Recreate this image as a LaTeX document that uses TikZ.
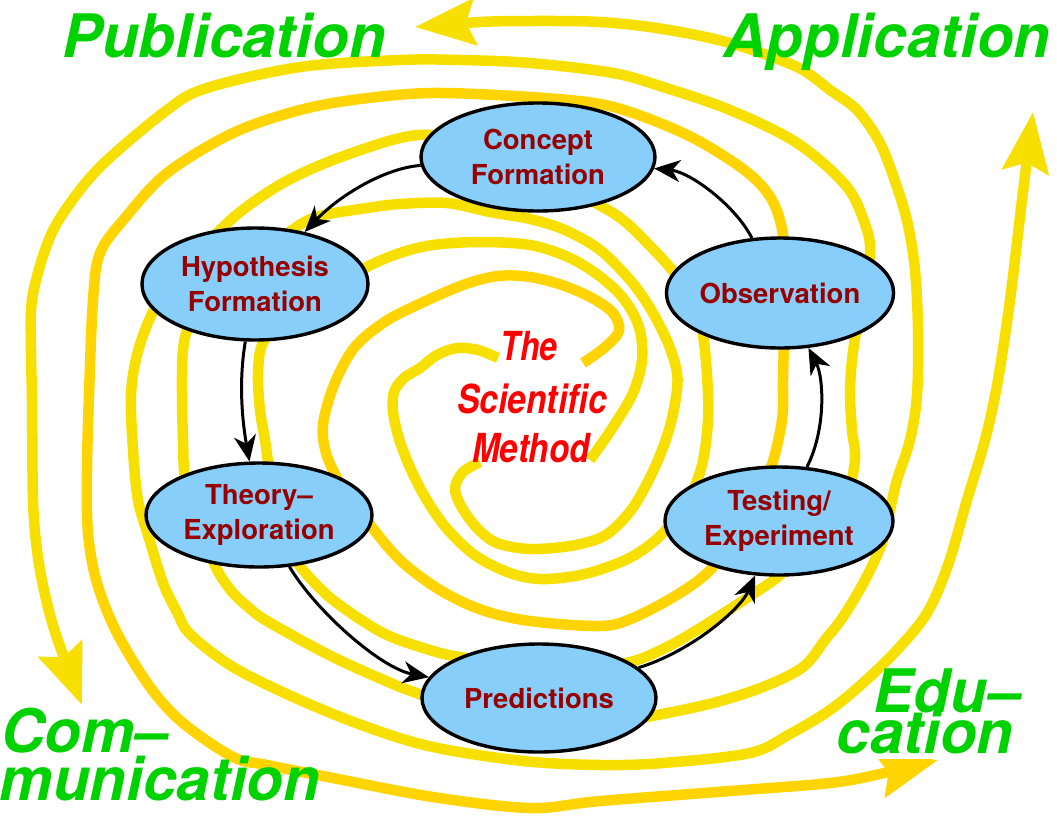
\documentclass[tikz,border=0pt]{standalone}
\usepackage{fontspec}
\setmainfont{TeX Gyre Heros}
\usepackage{graphicx}
\usetikzlibrary{arrows.meta,shapes.geometric}
\definecolor{spiralY}{RGB}{247,224,0}
\definecolor{spiralG}{RGB}{255,212,0}
\definecolor{nodeblue}{RGB}{135,206,250}
\definecolor{nodetext}{RGB}{150,0,0}
\definecolor{labelgreen}{RGB}{0,210,0}
\definecolor{titlered}{RGB}{255,0,0}
\begin{document}
\begin{tikzpicture}[x=1pt,y=-1pt,
  arm/.style={line width=10.5pt, line join=round, color=spiralY},
  goldarm/.style={arm, color=spiralG},
  bigtip/.style={-{Stealth[length=60pt,width=46pt,inset=9pt]}},
  stage/.style={ellipse, draw=black, line width=3.4pt, fill=nodeblue, inner sep=0pt, text=nodetext, font=\fontsize{27.5}{35}\selectfont\bfseries, align=center},
  flow/.style={line width=3pt, -{Stealth[length=26pt,width=22pt,inset=8pt]}},
  outlabel/.style={text=labelgreen, font=\fontsize{60}{60}\selectfont\bfseries\itshape, inner sep=0pt, anchor=base},
  titleline/.style={text=titlered, font=\fontsize{40}{40}\selectfont\bfseries\itshape, inner sep=0pt, anchor=base}
]
\useasboundingbox (0,0) rectangle (1057,817);

% Arm A (gold) -> Education
\draw[goldarm, bigtip] plot[smooth, tension=0.55] coordinates {
(583,363) (604,348) (619,331) (613,313) (592,298) (562,285) (530,277) (498,276) (463,285) (415,306) (383,323) (354,348) (334,385) (323,425) (327,456) (343,488) (367,521) (400,560) (440,590) (482,610) (530,621) (600,626) (633,618) (680,593) (713,567) (745,520) (770,470) (782,420) (783,380) (784,330) (784,280) (783,235) (772,200) (747,172) (697,140) (647,118) (600,104) (530,97) (433,93) (360,99) (300,110) (233,133) (167,173) (125,218) (100,253) (93,300) (89,395) (87,470) (88,533) (97,583) (117,633) (150,687) (183,723) (233,757) (267,765) (333,778) (433,797) (530,808) (600,801) (730,791) (830,783) (880,774) (938,760)};

% Arm B -> Application
\draw[arm, bigtip] plot[smooth, tension=0.55] coordinates {
(498,358) (478,350) (457,348) (437,355) (420,368) (404,378) (394,392) (393,412) (400,442) (413,474) (428,502) (448,530) (476,556) (510,573) (540,579) (575,576) (605,568) (635,555) (663,533) (688,500) (702,465) (708,420) (707,375) (702,330) (690,295) (672,270) (652,248) (623,220) (590,200) (540,175) (490,152) (440,136) (400,138) (333,160) (283,183) (240,212) (205,245) (170,282) (150,318) (137,355) (131,395) (133,450) (138,500) (148,535) (163,583) (177,612) (190,634) (233,667) (300,700) (367,727) (433,747) (523,761) (600,765) (663,763) (750,753) (790,734) (830,710) (863,683) (897,650) (927,613) (948,565) (967,500) (985,440) (998,380) (1010,300) (1022,200) (1033,112)};

% Arm C -> Communication
\draw[arm, bigtip] plot[smooth, tension=0.55] coordinates {
(590,460) (613,427) (633,393) (642,360) (639,327) (623,298) (598,275) (568,257) (530,245) (480,242) (433,245) (400,253) (367,267) (320,295) (280,320) (262,345) (258,375) (260,410) (265,440) (270,470) (285,520) (295,555) (303,570) (333,600) (383,633) (430,650) (460,657) (520,665) (580,667) (630,662) (665,648) (697,630) (747,598) (780,575) (815,540) (845,500) (855,460) (852,430) (850,395) (852,360) (858,320) (866,280) (870,255) (867,230) (847,187) (797,143) (730,110) (663,87) (613,73) (530,63) (460,60) (400,60) (300,67) (207,88) (167,110) (100,167) (62,215) (45,250) (32,300) (31,350) (32,400) (33,500) (37,550) (44,590) (56,635) (82,705)};

% Arm D -> Publication
\draw[arm, bigtip] plot[smooth, tension=0.55] coordinates {
(480,462) (463,472) (455,488) (461,506) (477,528) (497,543) (530,549) (570,546) (600,538) (618,525) (636,503) (655,467) (669,430) (676,397) (677,373) (668,343) (650,308) (630,280) (600,250) (565,230) (530,219) (490,212) (447,203) (400,204) (367,208) (320,216) (295,228) (255,260) (215,295) (190,325) (183,350) (182,395) (183,440) (185,480) (195,525) (210,555) (220,575) (233,593) (247,606) (267,621) (333,657) (400,687) (430,698) (500,720) (600,725) (652,716) (713,703) (763,687) (803,667) (825,640) (843,617) (865,580) (882,543) (890,510) (897,480) (910,440) (917,395) (918,330) (915,270) (908,225) (897,187) (880,143) (857,110) (830,90) (797,67) (730,43) (663,29) (600,22) (530,21) (480,22) (415,27)};

% stages
\node[stage, minimum width=234pt, minimum height=108pt] (concept) at (538,157) {Concept\\Formation};
\node[stage, minimum width=226pt, minimum height=112pt] (hyp) at (255,284) {Hypothesis\\Formation};
\node[stage, minimum width=226pt, minimum height=110pt] (obs) at (780,293) {Observation};
\node[stage, minimum width=226pt, minimum height=104pt] (theory) at (259,515) {Theory\textendash\\Exploration};
\node[stage, minimum width=234pt, minimum height=108pt] (pred) at (539,698) {Predictions};
\node[stage, minimum width=228pt, minimum height=108pt] (test) at (779,521) {Testing/\\Experiment};

% cycle arrows
\draw[flow] (concept) .. controls (385,168) and (340,195) .. (hyp);
\draw[flow] (hyp) .. controls (238,385) and (243,425) .. (theory);
\draw[flow] (theory) .. controls (315,610) and (380,668) .. (pred);
\draw[flow] (pred) .. controls (690,652) and (740,610) .. (test);
\draw[flow] (test) .. controls (826,430) and (824,378) .. (obs);
\draw[flow] (obs) .. controls (735,205) and (690,172) .. (concept);

% centre title
\node[titleline] (t1) at (529,360) {\scalebox{0.8}[1]{The}};
\node[titleline] (t2) at (532,413) {\scalebox{0.84}[1]{Scientific}};
\node[titleline] (t3) at (531,462) {\scalebox{0.83}[1]{Method}};

% outer labels
\node[outlabel] (pub) at (224,57) {Publication};
\node[outlabel] (app) at (887,57) {Application};
\node[outlabel] (com1) at (85,752) {Com\textendash};
\node[outlabel] (com2) at (160,800) {munication};
\node[outlabel, fill=white, inner xsep=2pt, inner ysep=5pt, text height=30pt] (edu2) at (925,753) {cation};
\node[outlabel] (edu1) at (947,712) {Edu\textendash};
\end{tikzpicture}
\end{document}
